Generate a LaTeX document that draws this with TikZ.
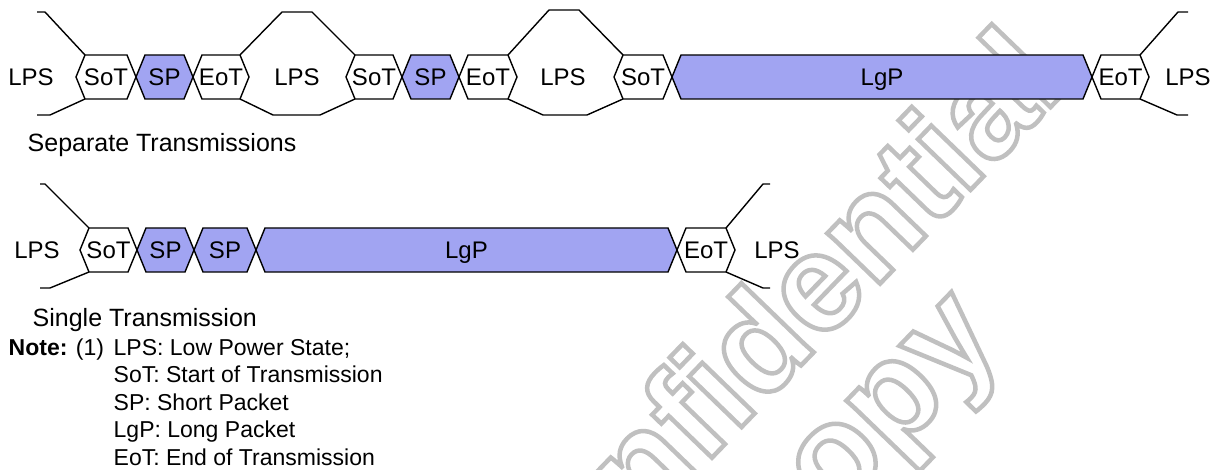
\documentclass[tikz,border=0pt]{standalone}
\usepackage{fontspec}
\setmainfont{Liberation Sans}
\definecolor{pktblue}{RGB}{161,164,242}
\definecolor{wmgray}{RGB}{192,192,192}

% packet box: name, left tip x, right tip x, middle y, style, label
\newcommand{\hexbox}[6]{%
  \coordinate (#1-l)  at (#2,#4);
  \coordinate (#1-tl) at (#2+9,#4-22);
  \coordinate (#1-tr) at (#3-9,#4-22);
  \coordinate (#1-r)  at (#3,#4);
  \coordinate (#1-br) at (#3-9,#4+22);
  \coordinate (#1-bl) at (#2+9,#4+22);
  \draw[#5] (#1-l) -- (#1-tl) -- (#1-tr) -- (#1-r) -- (#1-br) -- (#1-bl) -- cycle;
  \node[lbl] (#1) at ({(#2+#3)/2},#4+8.6) {#6};
}
% stroked (hollow) lettering
\newcommand{\hollow}[1]{\special{pdf:literal direct 1 Tr 4.5 w}#1\special{pdf:literal direct 0 Tr}}

\begin{document}
\begin{tikzpicture}[x=1pt,y=-1pt,line width=1.4pt,line join=miter,
  lbl/.style={font=\fontsize{24}{28}\selectfont,inner sep=0pt,anchor=base},
  captxt/.style={font=\fontsize{25}{30}\selectfont,inner sep=0pt,anchor=base west},
  notetxt/.style={font=\fontsize{23}{27}\selectfont,inner sep=0pt,anchor=base west},
  hexw/.style={fill=white},
  hexb/.style={fill=pktblue},
  wm/.style={font=\fontsize{138}{156}\selectfont\bfseries,inner sep=0pt,
    rotate=46,text=wmgray}]
\useasboundingbox (0,0) rectangle (1222,470);

% watermark lettering, behind everything
\begin{scope}
  \clip (0,0) rectangle (1222,470);
  \node[wm] (wmconf) at (758,339) {\hollow{Confidential}};
  \node[wm] (wmcopy) at (876,442) {\hollow{copy}};
\end{scope}

% ---------- separate transmissions ----------
\hexbox{sotA}{76}{136}{77}{hexw}{SoT}
\hexbox{spA}{136}{193}{77}{hexb}{SP}
\hexbox{eotA}{193}{249}{77}{hexw}{EoT}
\hexbox{sotB}{346}{402}{77}{hexw}{SoT}
\hexbox{spB}{402}{459}{77}{hexb}{SP}
\hexbox{eotB}{459}{517}{77}{hexw}{EoT}
\hexbox{sotC}{614}{672}{77}{hexw}{SoT}
\hexbox{lgpA}{672}{1092}{77}{hexb}{LgP}
\hexbox{eotC}{1092}{1149}{77}{hexw}{EoT}

\coordinate (a0t) at (37,12);   \coordinate (a1t) at (45,12);
\coordinate (a0b) at (37,115);  \coordinate (a1b) at (50,115);
\draw (a0t) -- (a1t) -- (sotA-tl);
\draw (a0b) -- (a1b) -- (sotA-bl);
\coordinate (b1t) at (282,12);  \coordinate (b2t) at (312,12);
\coordinate (b1b) at (273,115); \coordinate (b2b) at (320,115);
\draw (eotA-tr) -- (b1t) -- (b2t) -- (sotB-tl);
\draw (eotA-br) -- (b1b) -- (b2b) -- (sotB-bl);
\coordinate (c1t) at (549,10);  \coordinate (c2t) at (579,10);
\coordinate (c1b) at (543,115); \coordinate (c2b) at (587,115);
\draw (eotB-tr) -- (c1t) -- (c2t) -- (sotC-tl);
\draw (eotB-br) -- (c1b) -- (c2b) -- (sotC-bl);
\coordinate (d1t) at (1178,12); \coordinate (d2t) at (1188,12);
\coordinate (d1b) at (1177,115);\coordinate (d2b) at (1188,115);
\draw (eotC-tr) -- (d1t) -- (d2t);
\draw (eotC-br) -- (d1b) -- (d2b);

\node[lbl] (lpsA) at (31,85.6) {LPS};
\node[lbl] (lpsB) at (297,85.6) {LPS};
\node[lbl] (lpsC) at (563,85.6) {LPS};
\node[lbl] (lpsD) at (1188,85.6) {LPS};
\node[captxt] (sepcap) at (27,152) {Separate Transmissions};

% ---------- single transmission ----------
\hexbox{sotD}{80}{137}{250}{hexw}{SoT}
\hexbox{spC}{137}{194}{250}{hexb}{SP}
\hexbox{spD}{194}{256}{250}{hexb}{SP}
\hexbox{lgpB}{256}{677}{250}{hexb}{LgP}
\hexbox{eotD}{677}{735}{250}{hexw}{EoT}

\coordinate (e0t) at (40,184);  \coordinate (e1t) at (45,184);
\coordinate (e0b) at (40,288);  \coordinate (e1b) at (50,288);
\draw (e0t) -- (e1t) -- (sotD-tl);
\draw (e0b) -- (e1b) -- (sotD-bl);
\coordinate (f1t) at (763,184); \coordinate (f2t) at (770,184);
\coordinate (f1b) at (763,288); \coordinate (f2b) at (770,288);
\draw (eotD-tr) -- (f1t) -- (f2t);
\draw (eotD-br) -- (f1b) -- (f2b);

\node[lbl] (lpsE) at (37,258.6) {LPS};
\node[lbl] (lpsF) at (777,258.6) {LPS};
\node[captxt] (sincap) at (32,326) {Single Transmission};

% ---------- notes ----------
\node[notetxt] (notehd) at (8,355) {\textbf{Note:} (1)};
\node[notetxt] (note1) at (113,355) {LPS: Low Power State;};
\node[notetxt] (note2) at (113,382.5) {SoT: Start of Transmission};
\node[notetxt] (note3) at (113,410) {SP: Short Packet};
\node[notetxt] (note4) at (113,437.5) {LgP: Long Packet};
\node[notetxt] (note5) at (113,465) {EoT: End of Transmission};
\end{tikzpicture}
\end{document}
